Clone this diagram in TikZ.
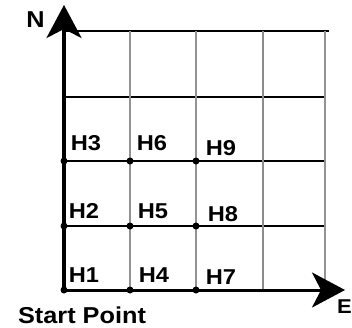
\documentclass[tikz,border=0pt]{standalone}
\usepackage{fontspec}
\setmainfont[FakeStretch=1.1]{Liberation Sans}
\usetikzlibrary{arrows.meta}
\begin{document}
\begin{tikzpicture}[x=1pt,y=-1pt,
  hline/.style={black,line width=1.6pt},
  vline/.style={gray!85,line width=2.6pt},
  vlinedark/.style={gray!110!black,line width=2.6pt},
  axis/.style={black,line width=3.6pt,-{Stealth[length=33pt,width=35pt,inset=9pt]}},
  hlab/.style={font=\fontsize{21.5}{21.5}\selectfont\bfseries,inner sep=0pt,anchor=base},
  dot/.style={circle,fill=black,inner sep=0pt,minimum size=7pt}]
\useasboundingbox (0,0) rectangle (352,327);
% grid coordinates
\foreach \i/\x in {1/64,2/130,3/196,4/263,5/325}{
  \foreach \j/\y in {1/31,2/97,3/161,4/226,5/290}{
    \coordinate (g\i\j) at (\x,\y);
  }
}
\coordinate (topend) at (329,31);
\coordinate (ntip) at (64,5);
\coordinate (etip) at (345,290);
% horizontal lines
\draw[hline] (g11) -- (topend);
\draw[hline] (g12) -- (g52);
\draw[hline] (g13) -- (g53);
\draw[hline] (g14) -- (g54);
% vertical lines
\draw[vline] (g21) -- (g25);
\draw[vline] (g31) -- (g35);
\draw[vlinedark] (g41) -- (g45);
\draw[vline] (g51) -- (g55);
% axes
\draw[axis,line width=3pt] (g15) -- (etip);
\draw[axis] (g15) -- (ntip);
% dots
\foreach \i in {1,2,3}{
  \foreach \j in {3,4,5}{
    \node[dot] (d\i\j) at (g\i\j) {};
  }
}
% labels
\node[hlab] (H1) at (84,282) {H1};
\node[hlab] (H4) at (154,282) {H4};
\node[hlab] (H7) at (221,284) {H7};
\node[hlab] (H2) at (84,218) {H2};
\node[hlab] (H5) at (153,218) {H5};
\node[hlab] (H8) at (223,221) {H8};
\node[hlab] (H3) at (86,150) {H3};
\node[hlab] (H6) at (152,150) {H6};
\node[hlab] (H9) at (221,155) {H9};
\node[font=\fontsize{23}{23}\selectfont\bfseries,inner sep=0pt,anchor=base] (N) at (35.5,27) {N};
\node[font=\fontsize{20}{20}\selectfont\bfseries,inner sep=0pt,anchor=base east] (E) at (352,313) {E};
\node[font=\fontsize{23}{23}\selectfont\bfseries,inner sep=0pt,anchor=base] (start) at (82,323) {Start Point};
\end{tikzpicture}
\end{document}
